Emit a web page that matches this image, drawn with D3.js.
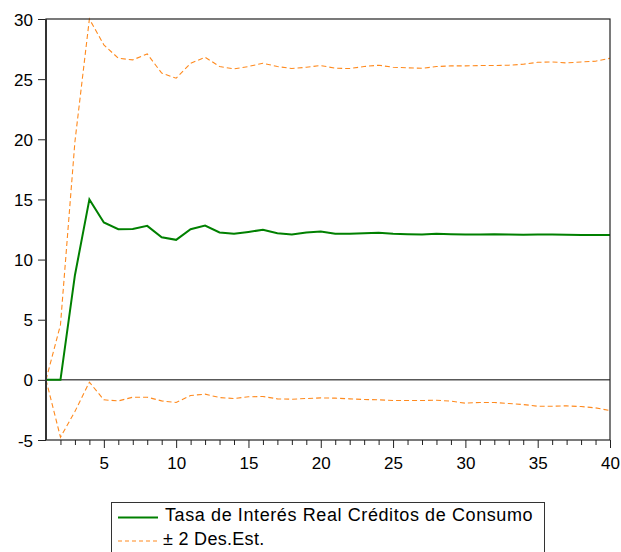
<!DOCTYPE html>
<html><head><meta charset="utf-8">
<script src="https://cdn.jsdelivr.net/npm/d3@7"></script>
<style>body{margin:0;background:#fff;} svg{display:block;font-family:"Liberation Sans",Arial,sans-serif;}</style>
</head><body>
<svg id="c" width="621" height="552"></svg>
<script>
const periods = d3.range(1, 41);
const response = [0,0,8.7,15.0,13.08,12.52,12.55,12.8,11.86,11.64,12.52,12.83,12.25,12.14,12.3,12.47,12.19,12.08,12.25,12.33,12.14,12.14,12.19,12.22,12.14,12.1,12.08,12.14,12.1,12.08,12.08,12.1,12.08,12.06,12.08,12.08,12.06,12.05,12.05,12.05];
const upperBand = [0,4.57,19.8,30.0,27.85,26.74,26.6,27.1,25.5,25.08,26.32,26.82,26.05,25.85,26.05,26.32,26.05,25.88,25.99,26.13,25.91,25.88,26.05,26.16,25.99,25.94,25.9,26.05,26.1,26.1,26.13,26.13,26.16,26.24,26.4,26.43,26.35,26.43,26.49,26.74];
const lowerBand = [0,-4.77,-2.63,-0.19,-1.66,-1.75,-1.44,-1.44,-1.75,-1.88,-1.3,-1.19,-1.47,-1.55,-1.41,-1.38,-1.58,-1.61,-1.55,-1.5,-1.52,-1.58,-1.63,-1.66,-1.72,-1.72,-1.72,-1.69,-1.77,-1.94,-1.88,-1.88,-1.97,-2.05,-2.19,-2.19,-2.16,-2.22,-2.33,-2.55];
const yTicks = [-5,0,5,10,15,20,25,30];
const xTicks = [5,10,15,20,25,30,35,40];
const legendLabels = ["Tasa de Interés Real Créditos de Consumo", "± 2 Des.Est."];

const svg = d3.select("#c");
const L = 46, R = 610, T = 19, B = 440;
const x = d3.scaleLinear().domain([1, 40]).range([L, R]);
const y = d3.scaleLinear().domain([-5, 30]).range([B, T]);

const green = "#008000", orange = "#ff8a1e";
const ff = "'Liberation Sans',Arial,sans-serif";

// axes
const yAxis = d3.axisLeft(y).tickValues(yTicks).tickSize(8).tickPadding(5).tickFormat(d => String(d));
const gy = svg.append("g").attr("transform", `translate(${L},0)`).call(yAxis);
gy.select(".domain").remove();
gy.selectAll("line").attr("stroke", "#222");
gy.selectAll("text").attr("font-size", 17).attr("fill", "#000")
  .attr("font-family", ff).attr("dy", "0.36em");

const xMinor = d3.axisBottom(x).tickValues(periods.filter(d => d % 5 !== 0 && d > 1)).tickSize(5).tickFormat("");
const gxm = svg.append("g").attr("transform", `translate(0,${B})`).call(xMinor);
gxm.select(".domain").remove();
gxm.selectAll("line").attr("stroke", "#222");

const xAxis = d3.axisBottom(x).tickValues(xTicks).tickSize(8).tickPadding(9).tickFormat(d => String(d));
const gx = svg.append("g").attr("transform", `translate(0,${B})`).call(xAxis);
gx.select(".domain").remove();
gx.selectAll("line").attr("stroke", "#222");
gx.selectAll("text").attr("font-size", 17).attr("fill", "#000").attr("font-family", ff);

// zero line
svg.append("line").attr("x1", L).attr("x2", R).attr("y1", y(0)).attr("y2", y(0))
  .attr("stroke", "#000").attr("stroke-width", 1);

const line = d3.line().x((d, i) => x(periods[i])).y(d => y(d));

svg.append("path").datum(upperBand).attr("d", line).attr("fill", "none")
  .attr("stroke", orange).attr("stroke-width", 1.1).attr("stroke-dasharray", "5,3");
svg.append("path").datum(lowerBand).attr("d", line).attr("fill", "none")
  .attr("stroke", orange).attr("stroke-width", 1.1).attr("stroke-dasharray", "5,3");
svg.append("path").datum(response).attr("d", line).attr("fill", "none")
  .attr("stroke", green).attr("stroke-width", 2);

// frame
svg.append("rect").attr("x", L).attr("y", T).attr("width", R - L).attr("height", B - T)
  .attr("fill", "none").attr("stroke", "#222").attr("stroke-width", 1.2);
svg.append("line").attr("x1", L).attr("x2", L).attr("y1", T).attr("y2", B)
  .attr("stroke", "#333").attr("stroke-width", 2);

// legend
const lg = svg.append("g");
lg.append("rect").attr("x", 111.5).attr("y", 502.5).attr("width", 433).attr("height", 60)
  .attr("fill", "#fff").attr("stroke", "#333").attr("stroke-width", 1);
lg.append("line").attr("x1", 118).attr("x2", 158).attr("y1", 517.5).attr("y2", 517.5)
  .attr("stroke", green).attr("stroke-width", 2);
lg.append("line").attr("x1", 118).attr("x2", 158).attr("y1", 541).attr("y2", 541)
  .attr("stroke", orange).attr("stroke-width", 1.1).attr("stroke-dasharray", "4,3");
lg.selectAll("text.lab").data(legendLabels).enter().append("text")
  .attr("x", (d, i) => i === 0 ? 165 : 163).attr("y", (d, i) => 521 + i * 24)
  .attr("font-size", 18).attr("letter-spacing", (d, i) => i === 0 ? 0.6 : 0.3)
  .attr("fill", "#000").text(d => d);
</script>
</body></html>
